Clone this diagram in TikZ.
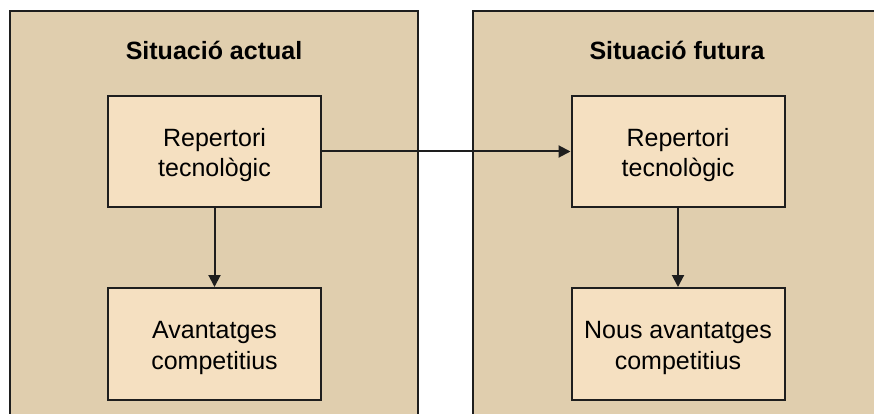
\documentclass[tikz,border=0pt]{standalone}
\usepackage{fontspec}
\setmainfont{Liberation Sans}
\usetikzlibrary{arrows.meta}
\definecolor{panelfill}{RGB}{224,206,174}
\definecolor{boxfill}{RGB}{245,224,193}
\definecolor{edge}{RGB}{30,30,30}
\newcommand{\topstrut}{\rule{0pt}{25pt}}
\begin{document}
\begin{tikzpicture}[x=1pt,y=-1pt,
  panel/.style={fill=panelfill,draw=edge,line width=2pt},
  stepbox/.style={draw=edge,fill=boxfill,line width=2pt,minimum width=213pt,minimum height=111pt,align=center,font=\fontsize{25}{30.5}\selectfont,inner sep=0pt},
  title/.style={font=\fontsize{25}{30}\selectfont\bfseries,anchor=base},
  conn/.style={draw=edge,line width=2pt,-{Triangle[length=12pt,width=12pt]}}]
\useasboundingbox (0,0) rectangle (874,414);
\clip (0,0) rectangle (874,414);
\fill[white] (0,0) rectangle (874,414);
\draw[panel] (10,430) -- (10,11) -- (418,11) -- (418,430);
\draw[panel] (473,430) -- (473,11) -- (882,11) -- (882,430);
\node[title] (t1) at (214,60) {Situació actual};
\node[title] (t2) at (677,60) {Situació futura};
\node[stepbox] (a1) at (214.5,151.5) {\topstrut Repertori\\tecnològic};
\node[stepbox,minimum height=112pt] (a2) at (214.5,344) {\topstrut Avantatges\\competitius};
\node[stepbox] (b1) at (678,151.5) {\topstrut Repertori\\tecnològic};
\node[stepbox,minimum height=112pt] (b2) at (678,344) {\topstrut Nous avantatges\\competitius};
\draw[conn] (a1) -- (a2);
\draw[conn] (b1) -- (b2);
\draw[conn] (a1.east) -- (b1.west);
\end{tikzpicture}
\end{document}
